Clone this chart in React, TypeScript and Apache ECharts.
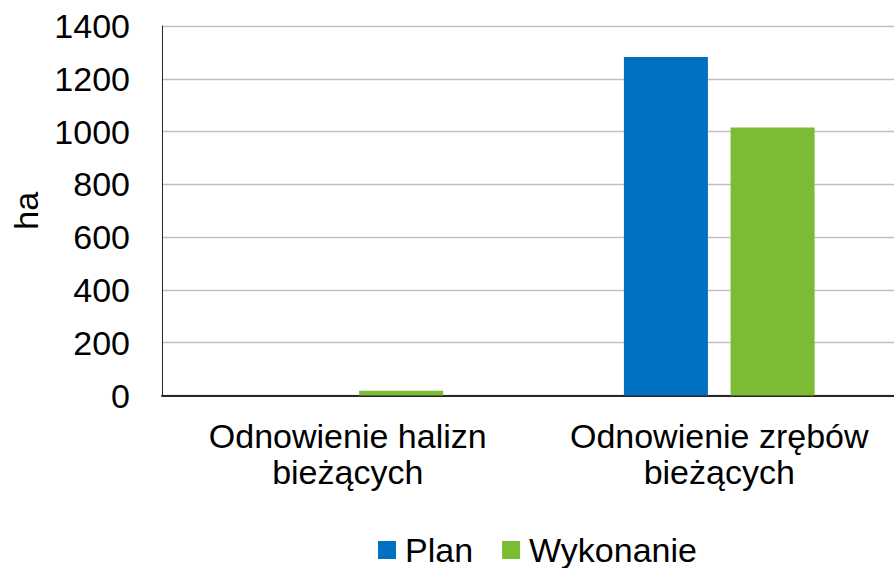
import React, { useEffect, useRef } from "react";
import * as echarts from "echarts";

const categories = ["Odnowienie halizn\nbieżących", "Odnowienie zrębów\nbieżących"];
const planValues = [0, 1283];
const wykonanieValues = [18, 1015];
const seriesNames = ["Plan", "Wykonanie"];
const yTicks = { min: 0, max: 1400, interval: 200 };
const yAxisName = "ha";

const FONT = "'Liberation Sans', Arial, sans-serif";

export default function App() {
  const ref = useRef<HTMLDivElement>(null);
  useEffect(() => {
    if (!ref.current) return;
    const chart = echarts.init(ref.current, undefined, { renderer: "svg" });
    chart.setOption({
      animation: false,
      backgroundColor: "#ffffff",
      textStyle: { fontFamily: FONT },
      grid: {
        left: 162,
        top: 26,
        height: 369.5,
        width: 743,
        containLabel: false,
        outerBoundsMode: "none",
      },
      legend: {
        data: seriesNames,
        left: 378,
        top: 533,
        padding: 0,
        itemWidth: 18,
        itemHeight: 18,
        itemGap: 29,
        icon: "rect",
        textStyle: { fontFamily: FONT, fontSize: 34, color: "#000", padding: [0, 0, 0, 4] },
      },
      xAxis: {
        type: "category",
        data: categories,
        axisLine: { show: true, lineStyle: { color: "#262626", width: 2 } },
        axisTick: { show: false },
        axisLabel: {
          interval: 0,
          margin: 22,
          fontFamily: FONT,
          fontSize: 34,
          lineHeight: 36,
          color: "#000",
        },
        splitLine: { show: false },
      },
      yAxis: {
        type: "value",
        min: yTicks.min,
        max: yTicks.max,
        interval: yTicks.interval,
        name: yAxisName,
        nameLocation: "middle",
        nameGap: 116,
        nameRotate: 90,
        nameTextStyle: { fontFamily: FONT, fontSize: 34, color: "#000" },
        axisLine: { show: true, lineStyle: { color: "#262626", width: 1 } },
        axisTick: { show: false },
        axisLabel: {
          margin: 32,
          fontFamily: FONT,
          fontSize: 34,
          color: "#000",
          formatter: (v: number) => String(v),
        },
        splitLine: { show: true, lineStyle: { color: "#c0c0c0", width: 1.3 } },
      },
      series: [
        {
          name: seriesNames[0],
          type: "bar",
          data: planValues,
          barWidth: 84,
          barGap: "27%",
          itemStyle: { color: "#0070C0" },
        },
        {
          name: seriesNames[1],
          type: "bar",
          data: wykonanieValues,
          barWidth: 84,
          barGap: "27%",
          itemStyle: { color: "#7CBC34" },
        },
      ],
    });
    return () => chart.dispose();
  }, []);
  return (
    <div
      ref={ref}
      style={{ position: "absolute", left: 0, top: 0, width: 894, height: 568 }}
    />
  );
}
